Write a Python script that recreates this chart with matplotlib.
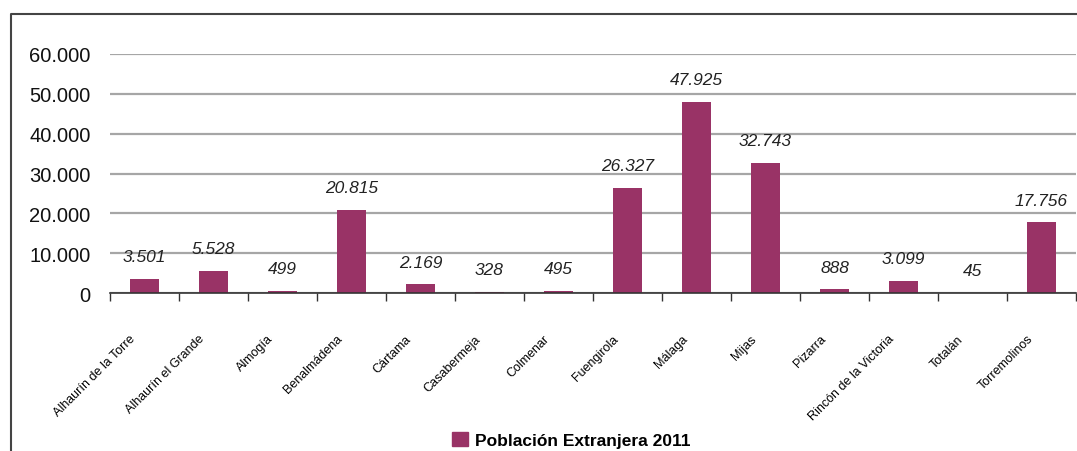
import matplotlib.pyplot as plt
from matplotlib.lines import Line2D
from matplotlib.patches import Patch
from matplotlib.ticker import FuncFormatter
from matplotlib.transforms import ScaledTranslation

# Datos
municipios = ["Alhaurín de la Torre", "Alhaurín el Grande", "Almogía", "Benalmádena",
              "Cártama", "Casabermeja", "Colmenar", "Fuengirola", "Málaga", "Mijas",
              "Pizarra", "Rincón de la Victoria", "Totalán", "Torremolinos"]
poblacion = [3501, 5528, 499, 20815, 2169, 328, 495, 26327, 47925, 32743,
             888, 3099, 45, 17756]
serie = "Población Extranjera 2011"

color = "#993366"
plt.rcParams['font.family'] = ['Liberation Sans', 'DejaVu Sans']

def miles(v, pos=None):
    return f"{int(v):,}".replace(",", ".")

fig = plt.figure(figsize=(10.77, 4.52), dpi=100)
ax = fig.add_axes([110 / 1077, 1 - 294 / 452, 966 / 1077, (294 - 55) / 452])

x = list(range(len(municipios)))
bars = ax.bar(x, poblacion, width=0.42, color=color, zorder=3)

for xi, v in zip(x, poblacion):
    ax.annotate(miles(v), (xi, v), xytext=(0, 16), textcoords="offset points",
                ha="center", va="center", fontsize=12.5, style="italic", color="#222222")

ax.set_xlim(-0.5, len(municipios) - 0.5)
ax.set_ylim(0, 60000)
ax.set_yticks(range(0, 60001, 10000))
ax.yaxis.set_major_formatter(FuncFormatter(miles))
ax.tick_params(axis="y", length=0, labelsize=14.5, pad=14, labelcolor="#111111")
ax.grid(axis="y", color="#a6a6a6", linewidth=1.6, zorder=0)

ax.set_xticks(x)
ax.set_xticklabels(municipios, rotation=45, ha="right", rotation_mode="anchor", fontsize=9)
ax.tick_params(axis="x", which="major", length=0, pad=14)
off = ScaledTranslation(-0.15, -0.2, fig.dpi_scale_trans)
for lab in ax.get_xticklabels():
    lab.set_transform(lab.get_transform() + off)
ax.set_xticks([i - 0.5 for i in range(len(municipios) + 1)], minor=True)
ax.tick_params(axis="x", which="minor", length=6, width=1, color="#333333")

for s in ["top", "right", "left"]:
    ax.spines[s].set_visible(False)
ax.spines["bottom"].set_color("#333333")
ax.spines["bottom"].set_linewidth(1.2)
ax.spines["bottom"].set_zorder(4)

# marco exterior
fig.add_artist(Line2D([11 / 1077, 11 / 1077, 1.0], [0, 1 - 15 / 452, 1 - 15 / 452],
                      transform=fig.transFigure, color="#444444", linewidth=1.5))

fig.legend(handles=[Patch(color=color, label=serie)], loc="center",
           bbox_to_anchor=(571 / 1077, 1 - 441 / 452), frameon=False,
           prop={"size": 12.5, "weight": "bold"}, handlelength=0.9, handleheight=0.9,
           handletextpad=0.4)

fig.savefig("out.png", dpi=100)
